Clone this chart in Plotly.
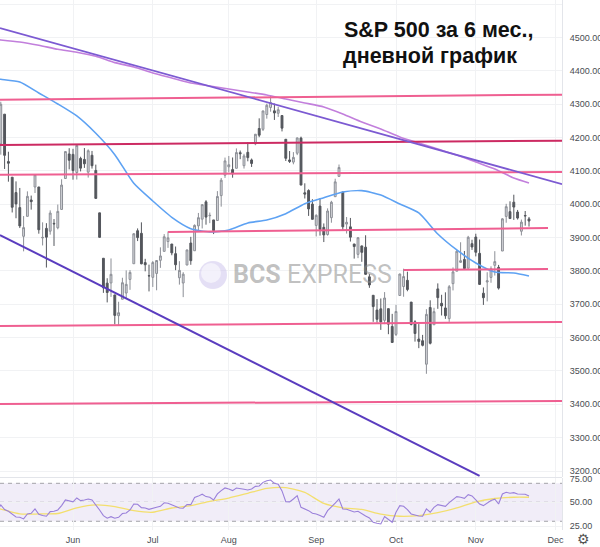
import pandas as pd
import plotly.graph_objects as go

# ---------------- data ----------------
holidays = ["2022-05-30", "2022-06-20", "2022-07-04", "2022-09-05", "2022-11-24"]
axis_days = [d.strftime("%Y-%m-%d") for d in pd.bdate_range("2022-05-02", "2022-12-09")
             if d.strftime("%Y-%m-%d") not in holidays]
dates = axis_days[:axis_days.index("2022-11-21") + 1]

opens = [4130.6, 4159.8, 4181.2, 4270.4, 4128.2, 4081.3, 4035.2, 3990.1, 3904.0, 3963.9, 4013.0, 4052.0, 4052.0, 3899.0, 3927.8, 3919.4, 3942.9, 3929.6, 3984.6, 4077.4, 4151.1,
         4149.8, 4095.4, 4137.6, 4134.7, 4096.5, 4147.1, 4101.7, 3974.4, 3838.2, 3763.5, 3764.1, 3728.2, 3665.9, 3715.3, 3733.9, 3774.7, 3821.8, 3920.8, 3913.0, 3825.1, 3786.0,
         3781.0, 3792.6, 3832.0, 3858.9, 3888.3, 3880.9, 3852.0, 3779.7, 3764.0, 3818.0, 3883.8, 3860.7, 3935.3, 3955.5, 4007.4, 3965.7, 3953.2, 3951.4, 4026.1, 4087.3,
         4112.4, 4104.2, 4108.0, 4154.9, 4115.9, 4155.9, 4133.1, 4181.0, 4227.4, 4225.0, 4269.4, 4290.5, 4280.4, 4273.1, 4266.3, 4195.1, 4133.1, 4126.6, 4153.3, 4198.7, 4034.6, 4041.3, 4000.7,
         3936.7, 3994.7, 3930.9, 3909.4, 3959.9, 4022.9, 4083.7, 4037.1, 3940.7, 3932.4, 3881.0, 3849.9, 3875.2, 3871.4, 3782.4, 3727.1, 3682.7, 3686.4, 3651.9, 3687.0, 3633.5,
         3609.8, 3726.5, 3753.3, 3772.0, 3706.7, 3647.5, 3595.9, 3590.8, 3520.4, 3690.4, 3638.7, 3746.3, 3703.1, 3689.1, 3657.1, 3762.0, 3799.4, 3826.0, 3834.7, 3808.3, 3881.9,
         3901.8, 3852.9, 3733.3, 3767.0, 3780.7, 3817.0, 3810.9, 3859.9, 3963.7, 3978.0, 4006.4, 3976.8, 3919.3, 3966.4, 3956.2]
highs = [4169.8, 4200.1, 4307.7, 4270.4, 4157.7, 4081.3, 4068.8, 4049.1, 3964.8, 4038.9, 4026.2, 4090.7, 4052.0, 3946.0, 3943.4, 3981.9, 3955.7, 3999.3, 4075.1, 4158.5, 4168.3,
         4166.5, 4177.5, 4142.7, 4168.8, 4164.9, 4160.1, 4119.1, 3974.4, 3838.2, 3778.2, 3837.6, 3728.2, 3707.7, 3779.7, 3801.8, 3802.6, 3913.7, 3927.7, 3945.9, 3836.5, 3819.0,
         3829.8, 3832.2, 3870.9, 3910.6, 3918.5, 3880.9, 3873.4, 3829.4, 3796.4, 3863.6, 3902.4, 3939.8, 3974.1, 3999.3, 4012.4, 3975.3, 3953.2, 4039.6, 4079.0, 4140.2,
         4145.0, 4140.5, 4167.7, 4161.3, 4151.6, 4186.6, 4137.3, 4211.0, 4257.9, 4280.5, 4301.8, 4325.3, 4302.2, 4292.5, 4266.3, 4195.1, 4159.8, 4156.6, 4200.5, 4203.0, 4063.0, 4045.0, 4015.4,
         3970.2, 4018.4, 3942.6, 3987.9, 4010.5, 4076.8, 4119.3, 4037.1, 3961.9, 3959.1, 3881.0, 3900.5, 3876.0, 3907.1, 3790.8, 3727.1, 3715.7, 3717.5, 3736.7, 3687.0, 3671.4,
         3698.4, 3791.9, 3806.9, 3797.9, 3706.7, 3652.2, 3640.7, 3608.3, 3685.4, 3712.0, 3689.7, 3762.8, 3728.6, 3736.0, 3757.9, 3810.7, 3862.9, 3886.2, 3860.0, 3905.4, 3893.7,
         3911.8, 3894.4, 3750.6, 3796.3, 3814.0, 3859.4, 3818.2, 3958.3, 4001.5, 4009.0, 4028.8, 3983.1, 3954.3, 3979.9, 3962.0]
lows = [4062.5, 4147.1, 4148.9, 4106.0, 4067.9, 3975.5, 3958.2, 3928.8, 3858.9, 3963.9, 3984.0, 4033.9, 3911.9, 3876.6, 3810.3, 3909.0, 3875.1, 3925.0, 3984.6, 4077.4, 4104.9,
        4073.9, 4074.4, 4098.7, 4109.2, 4080.2, 4107.2, 4017.2, 3900.2, 3734.3, 3705.7, 3722.3, 3639.8, 3636.9, 3715.3, 3717.7, 3743.5, 3821.8, 3889.7, 3820.1, 3799.0, 3738.7,
        3752.1, 3742.1, 3809.4, 3858.9, 3869.3, 3847.2, 3802.4, 3759.1, 3721.6, 3817.2, 3818.6, 3860.7, 3922.0, 3927.6, 3938.9, 3943.5, 3910.7, 3951.4, 3993.0, 4079.2,
        4096.0, 4079.8, 4108.0, 4135.4, 4107.3, 4129.0, 4112.1, 4177.3, 4201.4, 4219.8, 4256.9, 4277.8, 4253.1, 4262.0, 4218.7, 4129.9, 4124.0, 4120.0, 4147.6, 4057.7, 4017.4, 3965.2, 3954.5,
        3903.7, 3906.2, 3886.8, 3906.0, 3944.8, 4022.9, 4083.7, 3921.4, 3912.3, 3888.3, 3837.1, 3838.5, 3827.5, 3789.5, 3749.5, 3647.5, 3644.8, 3623.3, 3640.6, 3610.4, 3584.1,
        3604.9, 3726.5, 3722.7, 3739.2, 3636.7, 3588.1, 3568.5, 3573.9, 3491.6, 3579.7, 3638.7, 3686.5, 3666.5, 3656.4, 3647.4, 3741.7, 3799.4, 3824.1, 3803.8, 3808.3, 3863.2,
        3843.8, 3758.7, 3698.2, 3708.8, 3764.7, 3786.3, 3744.2, 3859.9, 3944.8, 3956.4, 3953.2, 3954.3, 3906.5, 3936.0, 3933.3]
closes = [4155.4, 4175.5, 4300.2, 4146.9, 4123.3, 3991.2, 4001.1, 3935.2, 3930.1, 4023.9, 4008.0, 4088.9, 3923.7, 3900.8, 3901.4, 3973.8, 3941.5, 3978.7, 4057.8, 4158.2, 4132.2,
          4101.2, 4176.8, 4108.5, 4121.4, 4160.7, 4115.8, 4017.8, 3900.9, 3749.6, 3735.5, 3790.0, 3666.8, 3674.8, 3764.8, 3759.9, 3795.7, 3911.7, 3900.1, 3821.6, 3818.8, 3785.4,
          3825.3, 3831.4, 3845.1, 3902.6, 3899.4, 3854.4, 3818.8, 3801.8, 3790.4, 3863.2, 3830.9, 3936.7, 3959.9, 3999.0, 3961.6, 3966.8, 3921.1, 4023.6, 4072.4, 4130.3,
          4118.6, 4091.2, 4155.2, 4151.9, 4145.2, 4140.1, 4122.5, 4210.2, 4207.3, 4280.2, 4297.1, 4305.2, 4274.0, 4283.7, 4228.5, 4138.0, 4128.7, 4140.8, 4199.1, 4057.7, 4030.6, 3986.2, 3955.0,
          3966.9, 3924.3, 3908.2, 3979.9, 4006.2, 4067.4, 4110.4, 3932.7, 3946.0, 3901.4, 3873.3, 3899.9, 3855.9, 3789.9, 3758.0, 3693.2, 3655.0, 3647.3, 3719.0, 3640.5, 3585.6,
          3678.4, 3790.9, 3783.3, 3744.5, 3639.7, 3612.4, 3588.8, 3577.0, 3669.9, 3583.1, 3678.0, 3720.0, 3695.2, 3665.8, 3752.8, 3797.3, 3859.1, 3830.6, 3807.3, 3901.1, 3872.0,
          3856.1, 3759.7, 3719.9, 3770.6, 3806.8, 3828.1, 3748.6, 3956.4, 3992.9, 3957.3, 3991.7, 3958.8, 3946.6, 3965.3, 3949.9]

rsi = [38.0, 40.5, 47.2, 42.3, 40.5, 37.0, 34.5, 34.2, 32.5, 37.7, 38.4, 43.0, 37.4, 36.0, 35.3, 40.2, 40.5, 41.9, 46.5, 52.5, 51.5,
       50.5, 54.6, 51.8, 52.5, 53.5, 52.5, 47.5, 41.9, 36.0, 33.2, 34.9, 33.2, 34.2, 38.1, 38.8, 41.9, 48.2, 47.9, 44.4, 44.0, 42.6,
       44.0, 44.7, 45.8, 49.5, 49.0, 47.5, 45.4, 44.0, 43.7, 47.5, 47.5, 55.0, 56.5, 58.5, 56.0, 55.3, 52.5, 58.8, 62.3, 65.1,
       64.0, 62.3, 65.1, 64.0, 63.7, 63.0, 64.0, 66.8, 67.2, 71.0, 72.8, 73.5, 70.0, 69.0, 62.0, 50.7, 50.4, 53.5, 57.0, 44.7, 43.3, 41.2, 38.4,
       37.7, 36.0, 34.2, 41.2, 44.7, 49.0, 53.5, 43.0, 42.6, 41.2, 39.8, 40.5, 37.7, 35.6, 33.5, 28.9, 27.9, 27.2, 34.9, 31.4, 28.9,
       39.5, 46.5, 45.8, 42.3, 37.7, 36.3, 35.6, 35.3, 43.0, 39.5, 44.7, 47.5, 46.5, 45.8, 49.6, 53.2, 56.0, 55.3, 54.2, 58.1, 56.7,
       52.5, 48.2, 46.5, 48.9, 51.8, 53.2, 48.2, 58.8, 60.5, 59.5, 60.2, 58.8, 58.4, 58.4, 56.7]

ma_dates = ["2022-05-02", "2022-05-04", "2022-05-11", "2022-05-18", "2022-05-25", "2022-06-02", "2022-06-09",
            "2022-06-16", "2022-06-24", "2022-07-01", "2022-07-11", "2022-07-18", "2022-07-25", "2022-08-01",
            "2022-08-08", "2022-08-15", "2022-08-22", "2022-08-29", "2022-09-06", "2022-09-13", "2022-09-20",
            "2022-09-27", "2022-10-04", "2022-10-11", "2022-10-18", "2022-10-25", "2022-11-01", "2022-11-08",
            "2022-11-15", "2022-11-21"]
sma50 = [4378, 4375, 4367, 4334, 4301, 4265, 4213, 4149, 4063, 4010, 3961, 3927, 3917, 3923,
         3944, 3953, 3972, 4002, 4020, 4037, 4041, 4028, 4001, 3974, 3911, 3863, 3824, 3797, 3794, 3785]
sma200 = [4495, 4493, 4487, 4477, 4465, 4456, 4444, 4425, 4412, 4394, 4379, 4364, 4355, 4346,
          4337, 4328, 4316, 4304, 4292, 4271, 4247, 4226, 4202, 4184, 4166, 4148, 4127, 4106, 4079, 4064]
rsi_ma = [44.5, 42.8, 37.7, 37.7, 38.2, 44.2, 47.2, 45.5, 41.2, 39.5, 44.0, 46.5, 51.0, 54.5,
          59.5, 64.6, 65.5, 60.4, 48.8, 44.2, 42.5, 37.5, 35.3, 36.0, 39.0, 44.0, 50.5, 54.0, 55.3, 55.3]

level_from = [None, None, None, "2022-07-08", "2022-10-05", None, None]
level_to = [None, None, None, "2022-11-29", "2022-11-29", None, None]
level_left = [4314, 4178, 4089, 3917, 3803, 3635, 3401]
level_right = [4329, 4191, 4097, 3929, 3806, 3647, 3410]

upper_trend_dates = ["2022-05-04", "2022-11-21"]
upper_trend_prices = [4528, 4088]
lower_trend_dates = ["2022-05-04", "2022-11-02"]
lower_trend_prices = [3906.6, 3185.3]

month_labels = ["Jun", "Jul", "Aug", "Sep", "Oct", "Nov", "Dec"]
month_keys = ["2022-06", "2022-07", "2022-08", "2022-09", "2022-10", "2022-11", "2022-12"]

# ---------------- geometry helpers ----------------
pos = {d: i for i, d in enumerate(axis_days)}
xi = [pos[d] for d in dates]
PX_PER_BAR = 3.8
PLOT_W = 562
PLOT_H = 530
x_left = pos["2022-05-04"] - 0.21
x_right = x_left + PLOT_W / PX_PER_BAR
tickvals = [next(pos[d] for d in axis_days if d.startswith(k)) for k in month_keys]

fig = go.Figure()

fig.add_trace(go.Candlestick(
    x=xi, open=opens, high=highs, low=lows, close=closes,
    increasing=dict(line=dict(color="#8c8f96", width=1), fillcolor="#d6d8dc"),
    decreasing=dict(line=dict(color="#53565c", width=1), fillcolor="#53565c"),
    whiskerwidth=0, showlegend=False, hoverinfo="skip", xaxis="x", yaxis="y"))

ma_x = [pos[d] for d in ma_dates]
fig.add_trace(go.Scatter(x=ma_x, y=sma200, mode="lines", line=dict(color="#c27fdc", width=1.6, shape="spline", smoothing=0.6),
                         showlegend=False, hoverinfo="skip", xaxis="x", yaxis="y"))
fig.add_trace(go.Scatter(x=ma_x, y=sma50, mode="lines", line=dict(color="#5ea2f3", width=1.6, shape="spline", smoothing=0.6),
                         showlegend=False, hoverinfo="skip", xaxis="x", yaxis="y"))

# RSI panel
fig.add_trace(go.Scatter(x=ma_x, y=rsi_ma, mode="lines", line=dict(color="#f3df6e", width=1.3, shape="spline", smoothing=0.6),
                         showlegend=False, hoverinfo="skip", xaxis="x2", yaxis="y2"))
fig.add_trace(go.Scatter(x=xi, y=rsi, mode="lines", line=dict(color="#9a80da", width=1.1),
                         showlegend=False, hoverinfo="skip", xaxis="x2", yaxis="y2"))

shapes = []
level_colors = ["#ef5f91", "#cc2a62", "#ef5f91", "#ef5f91", "#ef5f91", "#ef5f91", "#ef5f91"]
for f, t, a, b, c in zip(level_from, level_to, level_left, level_right, level_colors):
    x0 = pos[f] if f else x_left
    x1 = pos[t] if t else x_right
    shapes.append(dict(type="line", xref="x", yref="y", x0=x0, x1=x1, y0=a, y1=b,
                       line=dict(color=c, width=2), layer="above"))

def extend(dts, prs, xa, xb):
    i0, i1 = pos[dts[0]], pos[dts[1]]
    s = (prs[1] - prs[0]) / (i1 - i0)
    return prs[0] + s * (xa - i0), prs[0] + s * (xb - i0)

ua, ub = extend(upper_trend_dates, upper_trend_prices, x_left, x_right)
shapes.append(dict(type="line", xref="x", yref="y", x0=x_left, x1=x_right, y0=ua, y1=ub,
                   line=dict(color="#7c5ad2", width=1.8), layer="above"))
la, lb = extend(lower_trend_dates, lower_trend_prices, x_left, pos[lower_trend_dates[1]])
shapes.append(dict(type="line", xref="x", yref="y", x0=x_left, x1=pos[lower_trend_dates[1]], y0=la, y1=lb,
                   line=dict(color="#5a3cbf", width=2), layer="above"))

shapes.append(dict(type="rect", xref="x2 domain", yref="y2", x0=0, x1=1, y0=30, y1=70,
                   fillcolor="rgba(126,87,194,0.11)", line=dict(width=0), layer="below"))
for v in (70, 50, 30):
    shapes.append(dict(type="line", xref="x2 domain", yref="y2", x0=0, x1=1, y0=v, y1=v,
                       line=dict(color="#a3a3a8", width=1, dash="4px,4px"), layer="below"))

shapes.append(dict(type="line", xref="paper", yref="paper", x0=0, x1=1, y0=1 - 477.5 / PLOT_H, y1=1 - 477.5 / PLOT_H,
                   line=dict(color="#e3e5ea", width=1)))

# watermark logo circle
shapes.append(dict(type="circle", xref="paper", yref="paper", x0=199 / PLOT_W, x1=227 / PLOT_W,
                   y0=1 - 289 / PLOT_H, y1=1 - 261 / PLOT_H, fillcolor="rgba(205,196,236,0.55)", line=dict(width=0)))
shapes.append(dict(type="circle", xref="paper", yref="paper", x0=201 / PLOT_W, x1=221 / PLOT_W,
                   y0=1 - 283 / PLOT_H, y1=1 - 263 / PLOT_H, fillcolor="rgba(255,255,255,0.55)", line=dict(width=0)))

annotations = [
    dict(text="<b>S&amp;P 500 за 6 мес.,</b>", xref="paper", yref="paper", x=342 / PLOT_W, y=1 - 30 / PLOT_H,
         xanchor="left", yanchor="middle", showarrow=False,
         font=dict(family="Liberation Sans, Arial", size=21.5, color="#111111")),
    dict(text="<b>дневной график</b>", xref="paper", yref="paper", x=341 / PLOT_W, y=1 - 56 / PLOT_H,
         xanchor="left", yanchor="middle", showarrow=False,
         font=dict(family="Liberation Sans, Arial", size=21.5, color="#111111")),
    dict(text="<b>BCS</b> EXPRESS", xref="paper", yref="paper", x=231 / PLOT_W, y=1 - 274 / PLOT_H,
         xanchor="left", yanchor="middle", showarrow=False,
         font=dict(family="Roboto", size=25, color="rgba(140,140,140,0.55)")),
    dict(text="⚙", xref="paper", yref="paper", x=583 / PLOT_W, y=-9 / PLOT_H,
         xanchor="center", yanchor="middle", showarrow=False,
         font=dict(family="DejaVu Sans", size=14, color="#555555")),
]

axis_font = dict(family="Liberation Sans, Arial", size=9, color="#4a4c52")
fig.update_layout(
    width=600, height=547,
    margin=dict(l=0, r=38, t=0, b=17, autoexpand=False),
    paper_bgcolor="white", plot_bgcolor="white",
    shapes=shapes, annotations=annotations,
    xaxis=dict(domain=[0, 1], range=[x_left, x_right], anchor="y", tickvals=tickvals, showticklabels=False,
               showgrid=True, gridcolor="#f1f2f4", zeroline=False, rangeslider=dict(visible=False), ticks="",
               automargin=False),
    xaxis2=dict(domain=[0, 1], range=[x_left, x_right], anchor="y2", tickvals=tickvals, ticktext=month_labels,
                showgrid=True, gridcolor="#f1f2f4", zeroline=False, ticks="", tickfont=axis_font,
                ticklabelstandoff=3, automargin=False),
    yaxis=dict(domain=[1 - 477 / PLOT_H, 1], range=[3182, 4612.9], side="right", dtick=100, tick0=0,
               tickformat=".2f", showgrid=True, gridcolor="#f1f2f4", zeroline=False, ticks="",
               tickfont=axis_font, showline=True, linecolor="#e3e5ea", ticklabelstandoff=5, automargin=False),
    yaxis2=dict(domain=[0, 1 - 478 / PLOT_H], range=[20.8, 75.6], side="right", tickvals=[25, 50, 75],
                tickformat=".2f", showgrid=True, gridcolor="#f1f2f4", zeroline=False, ticks="",
                tickfont=axis_font, showline=True, linecolor="#e3e5ea", ticklabelstandoff=5, automargin=False),
)

fig.write_html("out.html", config={"displayModeBar": False, "staticPlot": True},
               post_script="document.body.style.margin='0';document.body.style.overflow='hidden';")
